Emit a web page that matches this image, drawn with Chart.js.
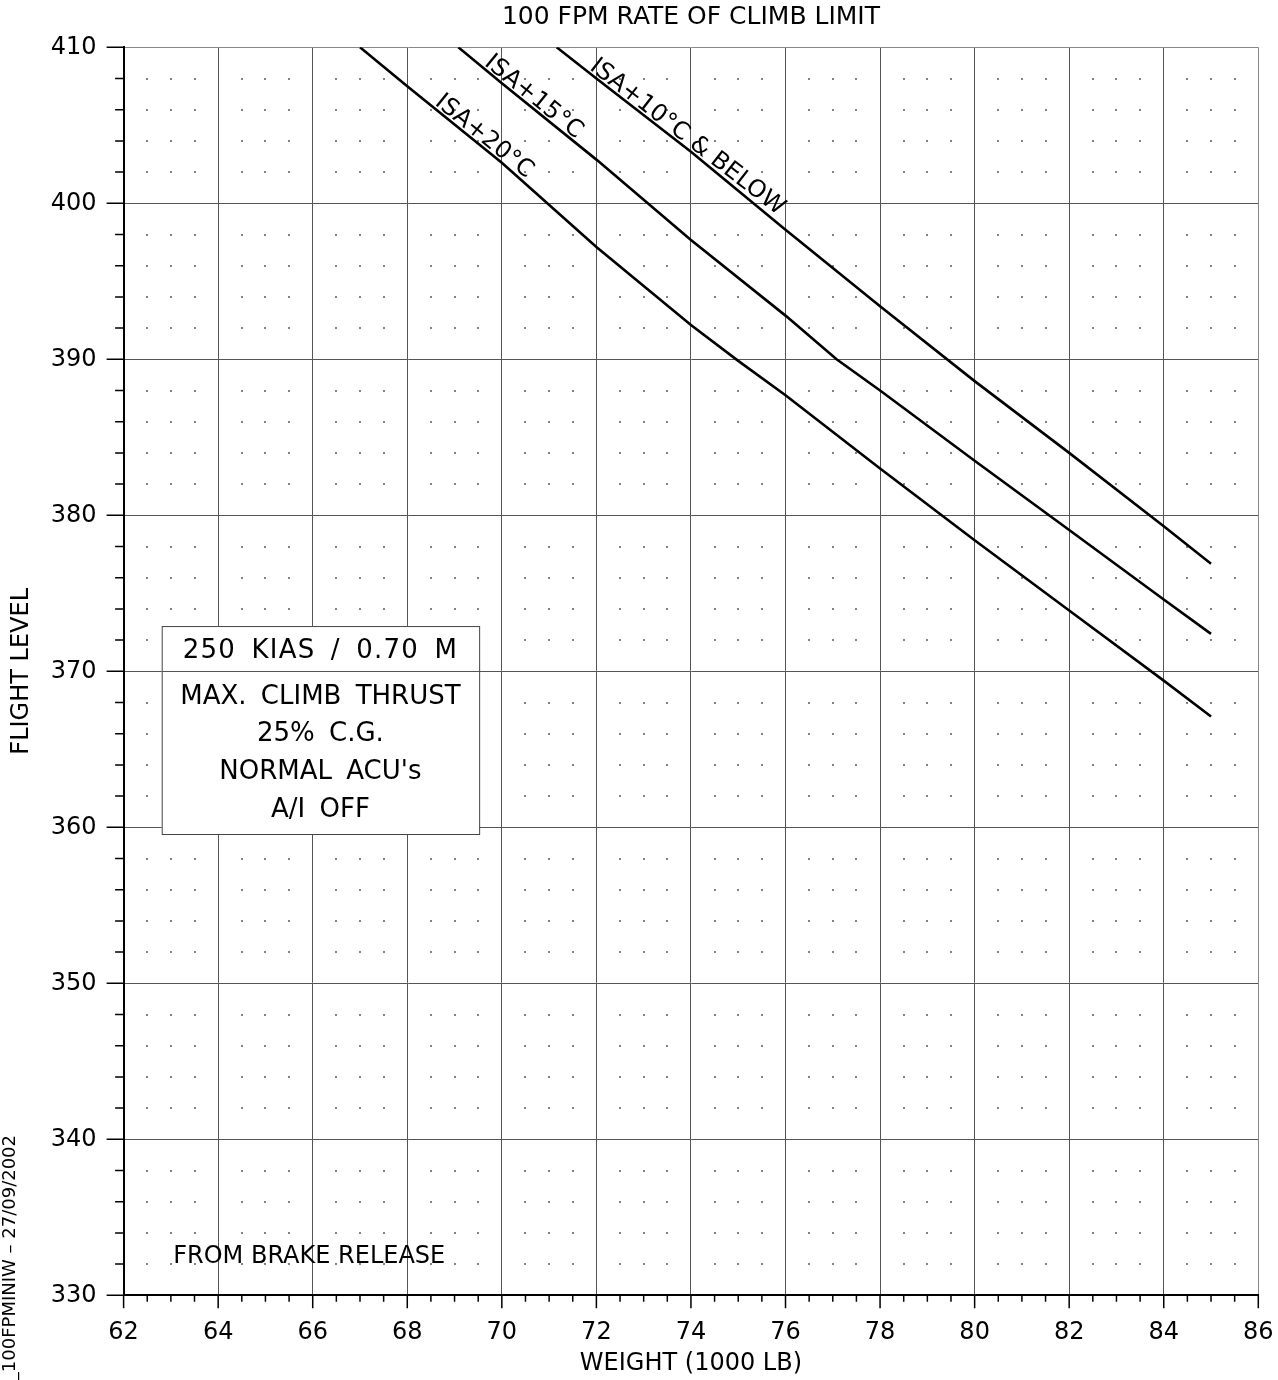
<!DOCTYPE html>
<html>
<head>
<meta charset="utf-8">
<script src="https://cdn.jsdelivr.net/npm/chart.js@4.4.0/dist/chart.umd.min.js"></script>
<style>
  html, body { margin: 0; padding: 0; background: #fff; }
  canvas { display: block; }
</style>
</head>
<body>
<canvas id="chart" width="1278" height="1380"></canvas>
<script>
// axis ticks
const weightTicks = [62, 64, 66, 68, 70, 72, 74, 76, 78, 80, 82, 84, 86];
const levelTicks = [330, 340, 350, 360, 370, 380, 390, 400, 410];

// ISA+10°C & below
const isa10Weight = [71.16, 72, 74, 76, 78, 80, 82, 84, 85];
const isa10Level = [410, 408.0, 403.3, 398.3, 393.4, 388.6, 384.0, 379.3, 376.9];
// ISA+15°C
const isa15Weight = [69.08, 70, 72, 74, 76, 77.08, 78, 80, 82, 84, 85];
const isa15Level = [410, 407.7, 402.8, 397.65, 392.8, 390, 388.0, 383.5, 379.06, 374.6, 372.4];
// ISA+20°C
const isa20Weight = [67.0, 68, 70, 72, 74, 75, 76, 78, 80, 82, 84, 85];
const isa20Level = [410, 407.5, 402.6, 397.2, 392.2, 389.9, 387.7, 383.0, 378.4, 373.9, 369.4, 367.1];

const boxLines = ['250 KIAS / 0.70 M', 'MAX. CLIMB THRUST', '25% C.G.', 'NORMAL ACU\'s', 'A/I OFF'];

const FONT = 'DejaVu Sans';

function toPoints(xs, ys) {
    return xs.map((v, i) => ({ x: v, y: ys[i] }));
}

function curve(label, xs, ys) {
    return {
        label: label,
        data: toPoints(xs, ys),
        showLine: true,
        borderColor: '#000',
        borderWidth: 2.6,
        pointRadius: 0,
        tension: 0,
        fill: false,
    };
}

// where the curve labels sit (x value of text centre along the line)
const lineLabels = [
    { ds: 0, at: 73.8, text: 'ISA+10°C & BELOW' },
    { ds: 1, at: 70.55, text: 'ISA+15°C' },
    { ds: 2, at: 69.5, text: 'ISA+20°C' },
];

const notesPlugin = {
    id: 'chartNotes',
    beforeDatasetsDraw(chart) {
        const { ctx, scales: { x, y } } = chart;
        ctx.save();

        // dotted minor grid
        ctx.fillStyle = '#222';
        for (let wx = 62; wx <= 86; wx += 0.5) {
            if (wx % 2 === 0) continue;
            for (let fl = 330; fl <= 410; fl += 2) {
                if (fl % 10 === 0) continue;
                ctx.fillRect(Math.round(x.getPixelForValue(wx)) - 0.75, Math.round(y.getPixelForValue(fl)) - 0.75, 1.5, 1.5);
            }
        }

        // conditions box
        const bx1 = x.getPixelForValue(62.806), bx2 = x.getPixelForValue(69.52);
        const by1 = y.getPixelForValue(372.9), by2 = y.getPixelForValue(359.57);
        ctx.fillStyle = '#fff';
        ctx.fillRect(bx1, by1, bx2 - bx1, by2 - by1);
        ctx.strokeStyle = '#444';
        ctx.lineWidth = 1;
        ctx.strokeRect(bx1 + 0.5, by1 + 0.5, bx2 - bx1, by2 - by1);
        // 370 grid line runs through the box
        const y370 = Math.round(y.getPixelForValue(370)) + 0.5;
        ctx.strokeStyle = '#555';
        ctx.beginPath();
        ctx.moveTo(bx1, y370);
        ctx.lineTo(bx2, y370);
        ctx.stroke();

        ctx.fillStyle = '#000';
        ctx.font = '26px "' + FONT + '"';
        ctx.textAlign = 'center';
        ctx.textBaseline = 'middle';
        ctx.wordSpacing = '6px';
        const cx = (bx1 + bx2) / 2;
        const rows = [651.7, 697, 734, 772.5, 810];
        boxLines.forEach((t, i) => {
            ctx.letterSpacing = i === 0 ? '1.2px' : '0px';
            ctx.fillText(t, cx, rows[i]);
        });
        ctx.wordSpacing = '0px';
        ctx.letterSpacing = '0px';

        ctx.font = '24px "' + FONT + '"';
        ctx.textAlign = 'left';
        ctx.fillText('FROM BRAKE RELEASE', x.getPixelForValue(63.05), y.getPixelForValue(332.5));
        ctx.restore();
    },
    afterDatasetsDraw(chart) {
        const { ctx, scales: { x, y } } = chart;
        ctx.save();
        ctx.fillStyle = '#000';
        ctx.font = '24px "' + FONT + '"';
        ctx.textAlign = 'center';
        ctx.textBaseline = 'alphabetic';
        lineLabels.forEach(lb => {
            const pts = chart.data.datasets[lb.ds].data;
            let i = 0;
            while (i < pts.length - 2 && pts[i + 1].x < lb.at) i++;
            const p0 = pts[i], p1 = pts[i + 1];
            const x0 = x.getPixelForValue(p0.x), y0 = y.getPixelForValue(p0.y);
            const x1 = x.getPixelForValue(p1.x), y1 = y.getPixelForValue(p1.y);
            const t = (lb.at - p0.x) / (p1.x - p0.x);
            const px = x0 + (x1 - x0) * t, py = y0 + (y1 - y0) * t;
            ctx.save();
            ctx.translate(px, py);
            ctx.rotate(Math.atan2(y1 - y0, x1 - x0));
            ctx.fillText(lb.text, 0, -3);
            ctx.restore();
        });
        ctx.restore();
    },
    afterDraw(chart) {
        const { ctx, chartArea, scales: { x, y } } = chart;
        ctx.save();
        ctx.strokeStyle = '#000';
        ctx.lineWidth = 1.5;
        ctx.beginPath();
        for (let fl = 330; fl <= 410; fl += 2) {
            const len = fl % 10 === 0 ? 17 : 8.5;
            const py = y.getPixelForValue(fl);
            ctx.moveTo(chartArea.left - len, py);
            ctx.lineTo(chartArea.left, py);
        }
        for (let wx = 62; wx <= 86; wx += 0.5) {
            const len = wx % 2 === 0 ? 13 : 6.5;
            const px = x.getPixelForValue(wx);
            ctx.moveTo(px, chartArea.bottom);
            ctx.lineTo(px, chartArea.bottom + len);
        }
        ctx.stroke();

        // drawing reference on the left margin
        ctx.fillStyle = '#000';
        ctx.font = '18px "' + FONT + '"';
        ctx.textAlign = 'right';
        ctx.textBaseline = 'alphabetic';
        ctx.translate(15, 1135);
        ctx.rotate(-Math.PI / 2);
        ctx.fillText('_100FPMINIW – 27/09/2002', 0, 0);
        ctx.restore();
    }
};

const gridColor = (c) => (c.index === c.chart.scales[c.scale.id].ticks.length - 1 ? '#888' : '#555');

new Chart(document.getElementById('chart'), {
    type: 'scatter',
    data: {
        datasets: [
            curve('ISA+10°C & BELOW', isa10Weight, isa10Level),
            curve('ISA+15°C', isa15Weight, isa15Level),
            curve('ISA+20°C', isa20Weight, isa20Level),
        ]
    },
    plugins: [notesPlugin],
    options: {
        responsive: false,
        animation: false,
        devicePixelRatio: 1,
        layout: { padding: { top: 0, left: 0, right: 19.7, bottom: 0 } },
        plugins: {
            legend: { display: false },
            tooltip: { enabled: false },
            title: {
                display: true,
                fullSize: false,
                text: '100 FPM RATE OF CLIMB LIMIT',
                color: '#000',
                font: { family: FONT, size: 25, weight: 'normal' },
                padding: { top: 2.5, bottom: 14.8 },
            },
        },
        scales: {
            x: {
                type: 'linear',
                position: 'bottom',
                min: 62,
                max: 86,
                afterBuildTicks: (s) => { s.ticks = weightTicks.map(v => ({ value: v })); },
                afterFit: (s) => { s.height = 84.7; s.paddingLeft = 0; s.paddingRight = 0; },
                grid: { color: gridColor, lineWidth: 1, drawTicks: false },
                border: { color: '#000', width: 2 },
                ticks: { color: '#000', font: { family: FONT, size: 24 }, padding: 23.5, maxRotation: 0 },
                title: {
                    display: true,
                    text: 'WEIGHT (1000 LB)',
                    color: '#000',
                    font: { family: FONT, size: 24 },
                    padding: { top: 0, bottom: 2 },
                },
            },
            y: {
                type: 'linear',
                min: 330,
                max: 410,
                afterBuildTicks: (s) => { s.ticks = levelTicks.map(v => ({ value: v })); },
                afterFit: (s) => { s.width = 123.6; },
                grid: { color: gridColor, lineWidth: 1, drawTicks: false },
                border: { color: '#000', width: 2 },
                ticks: { color: '#000', font: { family: FONT, size: 24 }, padding: 27 },
                title: {
                    display: true,
                    text: 'FLIGHT LEVEL',
                    color: '#000',
                    font: { family: FONT, size: 24 },
                    padding: { top: 7, bottom: 0 },
                },
            },
        },
    },
});
</script>
</body>
</html>
